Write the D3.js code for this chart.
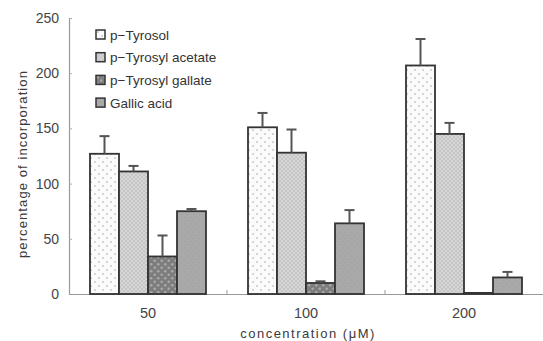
<!DOCTYPE html>
<html>
<head>
<meta charset="utf-8">
<script src="https://d3js.org/d3.v7.min.js"></script>
<style>
    body { margin: 0; background: #fff; }
    text { font-family: "Liberation Sans", Arial, sans-serif; fill: #3a3a3a; }
</style>
</head>
<body>
<svg id="chart" width="543" height="341"></svg>
<script>
    // data
    var categories = ["50", "100", "200"];
    var seriesNames = ["p\u2212Tyrosol", "p\u2212Tyrosyl acetate", "p\u2212Tyrosyl gallate", "Gallic acid"];
    var tyrosol = [127, 151, 207];
    var tyrosolErr = [16, 13, 24];
    var acetate = [111, 128, 145];
    var acetateErr = [5, 21, 10];
    var gallate = [34, 10, 1];
    var gallateErr = [19, 1.5, 0];
    var gallic = [75, 64, 15];
    var gallicErr = [2, 12, 5];
    var yTicks = [0, 50, 100, 150, 200, 250];

    var values = [tyrosol, acetate, gallate, gallic];
    var errors = [tyrosolErr, acetateErr, gallateErr, gallicErr];
    var fills = ["url(#pTyr)", "url(#pAce)", "url(#pGal)", "url(#pGac)"];

    var svg = d3.select("#chart");

    // fill patterns
    var defs = svg.append("defs");
    function dotPattern(id, bg, dot, size, r) {
        var p = defs.append("pattern").attr("id", id)
            .attr("patternUnits", "userSpaceOnUse")
            .attr("width", size).attr("height", size);
        p.append("rect").attr("width", size).attr("height", size).attr("fill", bg);
        p.append("circle").attr("cx", size / 4).attr("cy", size / 4).attr("r", r).attr("fill", dot);
        p.append("circle").attr("cx", size * 3 / 4).attr("cy", size * 3 / 4).attr("r", r).attr("fill", dot);
    }
    dotPattern("pTyr", "#fbfbfb", "#c4c4c4", 8, 0.9);
    dotPattern("pAce", "#d6d6d6", "#a8a8a8", 4, 0.7);
    dotPattern("pGal", "#7d7d7d", "#a9a9a9", 7, 1.3);
    dotPattern("pGac", "#a9a9a9", "#a2a2a2", 6, 0.8);

    var x = d3.scaleBand().domain(categories).range([69, 543]);
    var xSub = d3.scaleBand().domain(d3.range(seriesNames.length)).range([21, x.bandwidth() - 21]);
    var y = d3.scaleLinear().domain([0, 250]).range([294, 18]);

    // y axis
    var yAxis = svg.append("g").attr("transform", "translate(69,0)")
        .call(d3.axisLeft(y).tickValues(yTicks).tickSize(-3).tickPadding(10));
    yAxis.select(".domain").attr("stroke", "#999").attr("stroke-width", 1.2);
    yAxis.selectAll(".tick line").attr("stroke", "#aaa");
    yAxis.selectAll("text").attr("font-size", 14).style("fill", "#444");

    // x axis
    var xAxis = svg.append("g").attr("transform", "translate(0,294)")
        .call(d3.axisBottom(x).tickSize(0).tickPadding(14));
    xAxis.select(".domain").attr("stroke", "#999").attr("stroke-width", 1.2);
    xAxis.selectAll("text").attr("font-size", 14.5).style("fill", "#444");
    // boundary ticks between groups
    xAxis.selectAll(".sep").data(categories.slice(1)).enter().append("line")
        .attr("x1", function(d) { return x(d); })
        .attr("x2", function(d) { return x(d); })
        .attr("y1", -4).attr("y2", 0)
        .attr("stroke", "#999");

    // bars
    var groups = svg.selectAll(".grp").data(categories).enter().append("g")
        .attr("transform", function(d) { return "translate(" + x(d) + ",0)"; });

    values.forEach(function(series, s) {
        groups.append("rect")
            .attr("x", xSub(s))
            .attr("width", xSub.bandwidth())
            .attr("y", function(d, i) { return y(series[i]); })
            .attr("height", function(d, i) { return y(0) - y(series[i]); })
            .attr("fill", fills[s])
            .attr("stroke", "#333")
            .attr("stroke-width", 1.8);
    });

    // error bars
    values.forEach(function(series, s) {
        var cx = xSub(s) + xSub.bandwidth() / 2;
        groups.each(function(d, i) {
            var e = errors[s][i];
            if (!e) return;
            var g = d3.select(this);
            g.append("line").attr("x1", cx).attr("x2", cx)
                .attr("y1", y(series[i])).attr("y2", y(series[i] + e))
                .attr("stroke", "#555").attr("stroke-width", 2);
            g.append("line").attr("x1", cx - 5).attr("x2", cx + 5)
                .attr("y1", y(series[i] + e)).attr("y2", y(series[i] + e))
                .attr("stroke", "#555").attr("stroke-width", 2);
        });
    });

    // legend
    var legend = svg.append("g").attr("transform", "translate(96,30)");
    seriesNames.forEach(function(name, s) {
        var row = legend.append("g").attr("transform", "translate(0," + (s * 22.7) + ")");
        row.append("rect").attr("width", 9).attr("height", 9)
            .attr("fill", fills[s]).attr("stroke", "#333").attr("stroke-width", 1.5);
        row.append("text").attr("x", 14).attr("y", 9.5)
            .attr("font-size", 13.5).style("fill", "#333").text(name);
    });

    // axis titles
    svg.append("text")
        .attr("transform", "translate(27,164) rotate(-90)")
        .attr("text-anchor", "middle").attr("font-size", 13)
        .attr("letter-spacing", 1.1)
        .text("percentage of incorporation");
    svg.append("text")
        .attr("x", 308).attr("y", 338)
        .attr("text-anchor", "middle").attr("font-size", 13)
        .attr("letter-spacing", 1.5)
        .text("concentration (\u03bcM)");
</script>
</body>
</html>
